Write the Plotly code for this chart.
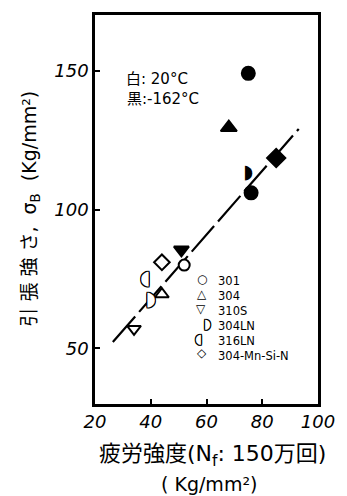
import plotly.graph_objects as go

# Data (fatigue strength vs tensile strength)
# open = 20°C, filled = -162°C
open_circle_x = [52]
open_circle_y = [80]
open_tri_up_x = [44]
open_tri_up_y = [69.5]
open_tri_dn_x = [34]
open_tri_dn_y = [57]
open_304ln_x = [40]
open_304ln_y = [67.5]
open_316ln_x = [38]
open_316ln_y = [75]
open_diamond_x = [44]
open_diamond_y = [81]

fill_circle_x = [75, 76]
fill_circle_y = [149, 106]
fill_tri_up_x = [68]
fill_tri_up_y = [129.5]
fill_tri_dn_x = [51]
fill_tri_dn_y = [85.5]
fill_304ln_x = [75]
fill_304ln_y = [113]
fill_diamond_x = [85]
fill_diamond_y = [118.5]

fit_x = [26.4, 93.1]
fit_y = [52.3, 129.0]

legend_labels = ["301", "304", "310S", "304LN", "316LN", "304-Mn-Si-N"]
legend_symbols = ["○", "△", "▽", "◗", "◖", "◇"]
legend_sym_x = [58.3, 58.3, 58.0, 60.5, 57.0, 58.3]

x_ticks = [20, 40, 60, 80, 100]
y_ticks = [50, 100, 150]

FONT = "DejaVu Sans, Noto Sans CJK JP, sans-serif"
OUTLINE = ("1px 0 0 #000, -1px 0 0 #000, 0 1px 0 #000, 0 -1px 0 #000, "
           "1px 1px 0 #000, -1px -1px 0 #000, 1px -1px 0 #000, -1px 1px 0 #000")

fig = go.Figure()

fig.add_trace(go.Scatter(x=fit_x, y=fit_y, mode="lines",
                         line=dict(color="black", width=2.2, dash="34px,6px"),
                         showlegend=False, hoverinfo="skip"))

def add_marker(xs, ys, symbol, size, filled):
    fig.add_trace(go.Scatter(
        x=xs, y=ys, mode="markers", showlegend=False,
        marker=dict(symbol=symbol, size=size,
                    color="black" if filled else "white",
                    line=dict(color="black", width=2))))

add_marker(open_circle_x, open_circle_y, "circle", 11, False)
add_marker(open_tri_up_x, open_tri_up_y, "triangle-up", 12, False)
add_marker(open_tri_dn_x, open_tri_dn_y, "triangle-down", 12, False)
add_marker(open_diamond_x, open_diamond_y, "diamond", 12, False)
add_marker(fill_circle_x, fill_circle_y, "circle", 13, True)
add_marker(fill_tri_up_x, fill_tri_up_y, "triangle-up", 14, True)
add_marker(fill_tri_dn_x, fill_tri_dn_y, "triangle-down", 13, True)
add_marker(fill_diamond_x, fill_diamond_y, "diamond", 14, True)

def add_glyph(xs, ys, glyph, filled):
    fig.add_trace(go.Scatter(
        x=xs, y=ys, mode="text", text=[glyph] * len(xs), showlegend=False,
        textposition="middle center",
        textfont=dict(family="DejaVu Sans", size=19,
                      color="black" if filled else "white",
                      shadow="none" if filled else OUTLINE)))

add_glyph(open_304ln_x, open_304ln_y, "◗", False)
add_glyph(open_316ln_x, open_316ln_y, "◖", False)
add_glyph(fill_304ln_x, fill_304ln_y, "◗", True)

ann = []
ann.append(dict(x=30.4, y=146.8, xref="x", yref="y", text="白: 20°C", showarrow=False,
                xanchor="left", yanchor="middle", font=dict(family=FONT, size=15, color="black")))
ann.append(dict(x=30.8, y=139.6, xref="x", yref="y", text="黒:-162°C", showarrow=False,
                xanchor="left", yanchor="middle", font=dict(family=FONT, size=15, color="black")))

# legend: labels as one block, symbols beside each row
LEG_FS = 11.5
row_h = 1.3 * LEG_FS  # px per row
px_per_unit = 2.8
top_row_y = 75.0
for i, (sym, sx) in enumerate(zip(legend_symbols, legend_sym_x)):
    half = sym in ("◗", "◖")
    ann.append(dict(x=sx, y=top_row_y - i * row_h / px_per_unit, xref="x", yref="y",
                    text=sym, showarrow=False, xanchor="center", yanchor="middle",
                    font=dict(family="DejaVu Sans", size=13 if half else 12,
                              color="white" if half else "black",
                              shadow=OUTLINE if half else "none")))
ann.append(dict(x=63.5, y=top_row_y + 0.5 * row_h / px_per_unit, xref="x", yref="y",
                text="<br>".join(legend_labels), showarrow=False,
                xanchor="left", yanchor="top", align="left",
                font=dict(family=FONT, size=LEG_FS, color="black")))

ann.append(dict(x=-0.29, y=0.503, xref="paper", yref="paper", textangle=-90,
                text="引 張 強 さ,  σ<sub>B</sub>  (Kg/mm²)", showarrow=False,
                xanchor="center", yanchor="middle",
                font=dict(family=FONT, size=19, color="black")))
ann.append(dict(x=0.526, y=-0.133, xref="paper", yref="paper",
                text="疲労強度(N<sub>f</sub>: 150万回)", showarrow=False,
                xanchor="center", yanchor="middle",
                font=dict(family=FONT, size=22, color="black")))
ann.append(dict(x=0.513, y=-0.205, xref="paper", yref="paper",
                text="( Kg/mm²)", showarrow=False,
                xanchor="center", yanchor="middle",
                font=dict(family=FONT, size=19, color="black")))

axis_common = dict(showline=True, linecolor="black", linewidth=2.5, mirror=True,
                   ticks="inside", ticklen=5, tickwidth=2, tickcolor="black",
                   showgrid=False, zeroline=False,
                   tickfont=dict(family=FONT, size=18, color="black", style="italic"))

fig.update_layout(
    width=347, height=496,
    margin=dict(l=95, r=22, t=12, b=92),
    plot_bgcolor="white", paper_bgcolor="white",
    xaxis=dict(range=[20, 100], tickvals=x_ticks, **axis_common),
    yaxis=dict(range=[30, 170], tickvals=y_ticks, **axis_common),
    annotations=ann,
)

fig.write_html("out.html")
